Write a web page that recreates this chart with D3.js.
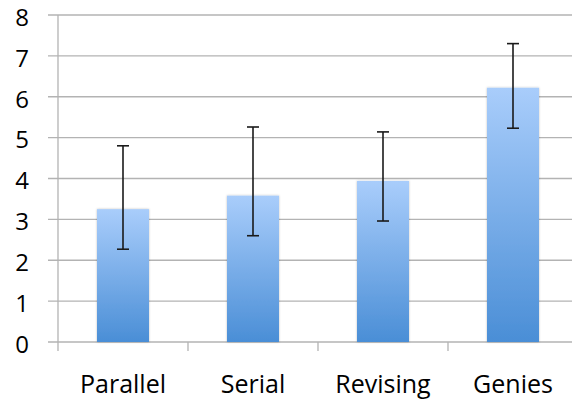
<!DOCTYPE html>
<html><head><meta charset="utf-8">
<script src="https://cdn.jsdelivr.net/npm/d3@7"></script>
<style>body{margin:0;background:#fff}svg{display:block}</style>
</head><body>
<svg id="c" width="572" height="400"></svg>
<script>
const categories = ["Parallel", "Serial", "Revising", "Genies"];
const means = [3.25, 3.58, 3.94, 6.22];
const errHigh = [4.80, 5.26, 5.14, 7.30];
const errLow = [2.27, 2.60, 2.96, 5.23];
const yTicks = [0,1,2,3,4,5,6,7,8];

const svg = d3.select("#c");
const mLeft = 58, mRight = 578, mTop = 15, mBottom = 342;
const x = d3.scaleBand().domain(categories).range([mLeft, mRight]).paddingInner(0).paddingOuter(0);
const y = d3.scaleLinear().domain([0, 8]).range([mBottom, mTop]);
const font = "'Open Sans', sans-serif";

const defs = svg.append("defs");
const g = defs.append("linearGradient").attr("id","bg").attr("x1",0).attr("y1",0).attr("x2",0).attr("y2",1);
g.append("stop").attr("offset","0%").attr("stop-color","#a9cdfb");
g.append("stop").attr("offset","100%").attr("stop-color","#4a8ed6");
const f = defs.append("filter").attr("id","sh").attr("x","-20%").attr("y","-20%").attr("width","140%").attr("height","140%");
f.append("feDropShadow").attr("dx",0).attr("dy",0).attr("stdDeviation",1.2).attr("flood-color","#000").attr("flood-opacity",0.25);

// gridlines
svg.append("g").selectAll("line").data(yTicks).join("line")
  .attr("x1", mLeft - 10).attr("x2", 572)
  .attr("y1", d => y(d)).attr("y2", d => y(d))
  .attr("stroke", "#b3b3b3").attr("stroke-width", 1.3);

// y axis line
svg.append("line").attr("x1", mLeft).attr("x2", mLeft).attr("y1", mTop).attr("y2", mBottom + 9)
  .attr("stroke", "#b3b3b3").attr("stroke-width", 1.3);

// x category ticks
svg.append("g").selectAll("line").data(categories.slice(1)).join("line")
  .attr("x1", d => x(d)).attr("x2", d => x(d))
  .attr("y1", mBottom).attr("y2", mBottom + 9)
  .attr("stroke", "#b3b3b3").attr("stroke-width", 1.3);

// y labels
svg.append("g").selectAll("text").data(yTicks).join("text")
  .attr("x", 22).attr("y", d => y(d)).attr("dy", "0.45em")
  .attr("text-anchor", "middle").attr("font-family", font).attr("font-size", 24)
  .attr("fill", "#000").text(d => d);

// bars
const bw = x.bandwidth() * 0.4;
svg.append("g").selectAll("rect").data(categories).join("rect")
  .attr("x", d => x(d) + (x.bandwidth() - bw) / 2)
  .attr("width", bw)
  .attr("y", (d, i) => y(means[i]))
  .attr("height", (d, i) => y(0) - y(means[i]))
  .attr("fill", "url(#bg)").attr("filter", "url(#sh)");

// error bars
const eg = svg.append("g").attr("stroke", "#1a1a1a").attr("stroke-width", 1.6);
categories.forEach((c, i) => {
  const cx = x(c) + x.bandwidth() / 2;
  eg.append("line").attr("x1", cx).attr("x2", cx).attr("y1", y(errHigh[i])).attr("y2", y(errLow[i]));
  eg.append("line").attr("x1", cx - 6).attr("x2", cx + 6).attr("y1", y(errHigh[i])).attr("y2", y(errHigh[i]));
  eg.append("line").attr("x1", cx - 6).attr("x2", cx + 6).attr("y1", y(errLow[i])).attr("y2", y(errLow[i]));
});

// x labels
svg.append("g").selectAll("text").data(categories).join("text")
  .attr("x", d => x(d) + x.bandwidth() / 2).attr("y", 393)
  .attr("text-anchor", "middle").attr("font-family", font).attr("font-size", 25)
  .attr("fill", "#000").text(d => d);
</script>
</body></html>
